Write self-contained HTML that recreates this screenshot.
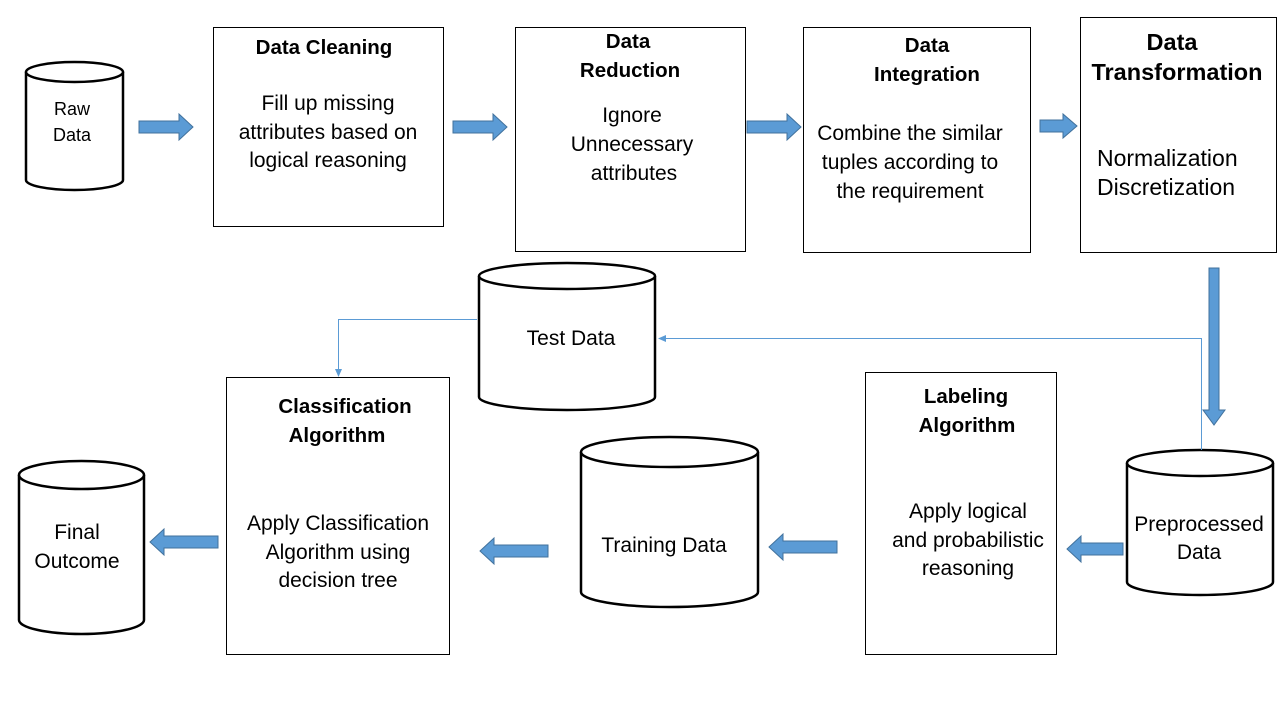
<!DOCTYPE html>
<html><head><meta charset="utf-8"><style>
html,body{margin:0;padding:0;background:#fff;width:1280px;height:720px;overflow:hidden}
svg text{font-family:"Liberation Sans",sans-serif;fill:#000}
.b{font-weight:bold;font-size:20.5px}
.r{font-size:21px}
</style></head><body>
<svg width="1280" height="720" viewBox="0 0 1280 720" xmlns="http://www.w3.org/2000/svg">
<g fill="#fff" stroke="#000" stroke-width="1">
<rect x="213.5" y="27.5" width="230" height="199"/>
<rect x="515.5" y="27.5" width="230" height="224"/>
<rect x="803.5" y="27.5" width="227" height="225"/>
<rect x="1080.5" y="17.5" width="196" height="235"/>
<rect x="226.5" y="377.5" width="223" height="277"/>
<rect x="865.5" y="372.5" width="191" height="282"/>
</g>
<g fill="#fff" stroke="#000" stroke-width="2.5">
<path d="M26,72 V180 A48.5,10 0 0 0 123,180 V72"/><ellipse cx="74.5" cy="72" rx="48.5" ry="10"/>
<path d="M479,276 V397 A88,13 0 0 0 655,397 V276"/><ellipse cx="567" cy="276" rx="88" ry="13"/>
<path d="M581,452 V592 A88.5,15 0 0 0 758,592 V452"/><ellipse cx="669.5" cy="452" rx="88.5" ry="15"/>
<path d="M19,475 V620 A62.5,14 0 0 0 144,620 V475"/><ellipse cx="81.5" cy="475" rx="62.5" ry="14"/>
<path d="M1127,463 V582 A73,13 0 0 0 1273,582 V463"/><ellipse cx="1200" cy="463" rx="73" ry="13"/>
</g>
<g fill="none" stroke="#5b9bd5" stroke-width="1">
<polyline points="1201.5,450 1201.5,338.5 664,338.5"/>
<polyline points="477,319.5 338.5,319.5 338.5,371"/>
</g>
<g fill="#5b9bd5">
<polygon points="658,338.5 666,335 666,342"/>
<polygon points="338.5,377 335,369 342,369"/>
</g>
<g fill="#5b9bd5" stroke="#41719c" stroke-width="1">
<polygon points="139,121 179,121 179,114 193,127 179,140 179,133 139,133"/>
<polygon points="453,121 493,121 493,114 507,127 493,140 493,133 453,133"/>
<polygon points="747,121 787,121 787,114 801,127 787,140 787,133 747,133"/>
<polygon points="1040,120 1063,120 1063,114 1077,126 1063,138 1063,132 1040,132"/>
<polygon points="1209,268 1219,268 1219,410 1225,410 1214,425 1203,410 1209,410"/>
<polygon points="1123,543 1081,543 1081,536 1067,549 1081,562 1081,555 1123,555"/>
<polygon points="837,541 783,541 783,534 769,547 783,560 783,553 837,553"/>
<polygon points="548,545 494,545 494,538 480,551 494,564 494,557 548,557"/>
<polygon points="218,536 164,536 164,529 150,542 164,555 164,548 218,548"/>
</g>
<g text-anchor="middle">
<text class="r" x="72" y="115" style="font-size:18px">Raw</text>
<text class="r" x="72" y="141" style="font-size:18px">Data</text>
<text class="b" x="324" y="54">Data Cleaning</text>
<text class="r" x="328" y="110">Fill up missing</text>
<text class="r" x="328" y="139">attributes based on</text>
<text class="r" x="328" y="167">logical reasoning</text>
<text class="b" x="628" y="48">Data</text>
<text class="b" x="630" y="77">Reduction</text>
<text class="r" x="632" y="122">Ignore</text>
<text class="r" x="632" y="151">Unnecessary</text>
<text class="r" x="634" y="180">attributes</text>
<text class="b" x="927" y="52">Data</text>
<text class="b" x="927" y="81">Integration</text>
<text class="r" x="910" y="140">Combine the similar</text>
<text class="r" x="910" y="169">tuples according to</text>
<text class="r" x="910" y="198">the requirement</text>
<text class="b" x="1172" y="50" style="font-size:23.5px">Data</text>
<text class="b" x="1177" y="80" style="font-size:23.5px">Transformation</text>
<text class="r" x="571" y="345">Test Data</text>
<text class="b" x="345" y="413">Classification</text>
<text class="b" x="337" y="442">Algorithm</text>
<text class="r" x="338" y="530">Apply Classification</text>
<text class="r" x="338" y="559">Algorithm using</text>
<text class="r" x="338" y="587">decision tree</text>
<text class="r" x="77" y="539">Final</text>
<text class="r" x="77" y="568">Outcome</text>
<text class="r" x="664" y="552">Training  Data</text>
<text class="b" x="966" y="403">Labeling</text>
<text class="b" x="967" y="432">Algorithm</text>
<text class="r" x="968" y="518">Apply logical</text>
<text class="r" x="968" y="547">and probabilistic</text>
<text class="r" x="968" y="575">reasoning</text>
<text class="r" x="1199" y="531">Preprocessed</text>
<text class="r" x="1199" y="559">Data</text>
</g>
<text class="r" x="1097" y="166" style="font-size:23px">Normalization</text>
<text class="r" x="1097" y="195" style="font-size:23px">Discretization</text>
</svg>
</body></html>
